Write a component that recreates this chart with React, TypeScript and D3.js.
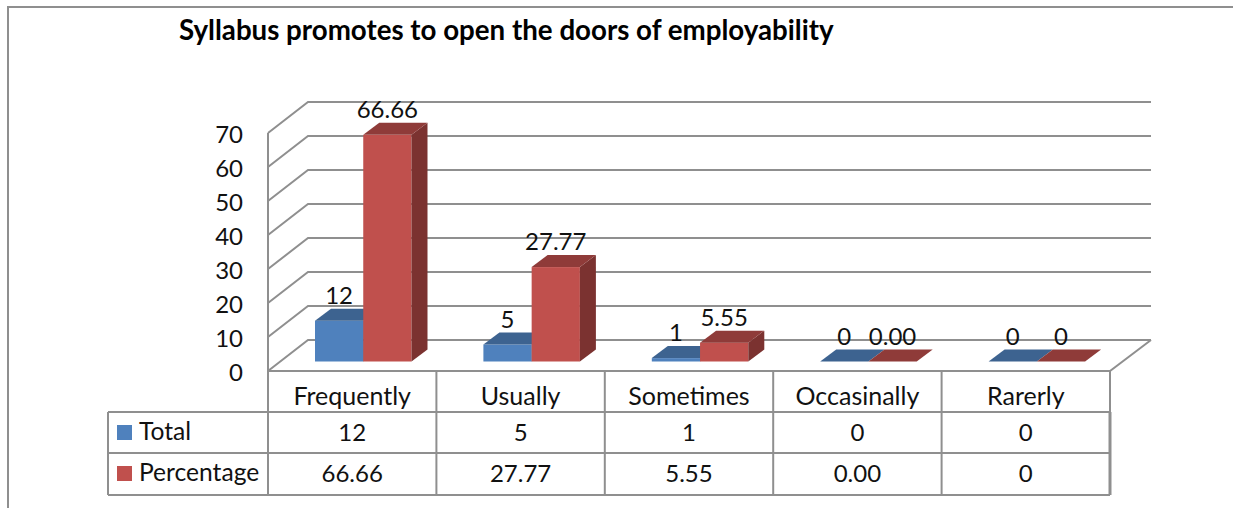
import React from 'react';
import * as d3 from 'd3';

const WIDTH = 1233;
const HEIGHT = 508;

const categories = ['Frequently', 'Usually', 'Sometimes', 'Occasinally', 'Rarerly'];
const seriesNames = ['Total', 'Percentage'];
const total = [12, 5, 1, 0, 0];
const percentage = [66.66, 27.77, 5.55, 0, 0];
const totalLabels = ['12', '5', '1', '0', '0'];
const percentageLabels = ['66.66', '27.77', '5.55', '0.00', '0'];
const yTicks = [0, 10, 20, 30, 40, 50, 60, 70];

const GRID = '#8f8f8f';
const FONT = 'Lato, Carlito, sans-serif';
const colors = [
  { front: '#4f81bd', top: '#3d6390', side: '#3a5f8b' },
  { front: '#c0504d', top: '#8f3b39', side: '#7b3230' },
];

// 3d offset of the back wall and of the bars
const DEPTH = { x: 40, y: 31 };
const BAR_DEPTH = { x: 16, y: 12 };
const FLOOR_GAP = 9.5;

const PLOT = { left: 268, right: 1110, top: 133, bottom: 371 };
const TABLE = { left: 108, row1: 412, row2: 453, bottom: 495 };

const x = d3.scaleBand<string>().domain(categories).range([PLOT.left, PLOT.right]);
const xInner = d3.scaleBand<string>().domain(seriesNames).range([47, 143.5]);
const y = d3.scaleLinear().domain([0, 70]).range([PLOT.bottom, PLOT.top]);

const Bar = ({ left, value, width, color }: { left: number; value: number; width: number; color: (typeof colors)[0] }) => {
  const base = y(0) - FLOOR_GAP;
  const top = y(value) - FLOOR_GAP;
  const right = left + width;
  const dx = BAR_DEPTH.x;
  const dy = BAR_DEPTH.y;
  return (
    <g>
      <rect x={left} y={top} width={width} height={base - top} fill={color.front} />
      <path d={`M${right},${top}L${right + dx},${top - dy}V${base - dy}L${right},${base}Z`} fill={color.side} />
      <path d={`M${left},${top}L${left + dx},${top - dy}H${right + dx}L${right},${top}Z`} fill={color.top} />
    </g>
  );
};

const App = () => {
  const rows = [total, percentage];
  const labels = [totalLabels, percentageLabels];
  const band = x.bandwidth();

  return (
    <svg
      width={WIDTH}
      height={HEIGHT}
      viewBox={`0 0 ${WIDTH} ${HEIGHT}`}
      style={{ position: 'absolute', left: 0, top: 0, display: 'block', background: '#fff' }}
      fontFamily={FONT}
      fontSize={24}
      fill="#111"
    >
      {/* frame: no right or bottom edge in the picture */}
      <path d={`M8,${HEIGHT}V7H${WIDTH}`} fill="none" stroke={GRID} strokeWidth={2} />

      <text x={179} y={40} fontSize={27.7} fontWeight={700} fill="#000">
        Syllabus promotes to open the doors of employability
      </text>

      {/* walls and floor */}
      <g fill="none" stroke={GRID} strokeWidth={2}>
        <line x1={PLOT.left} x2={PLOT.left} y1={PLOT.top} y2={PLOT.bottom} />
        {yTicks.map((t) => (
          <polyline
            key={t}
            points={`${PLOT.left},${y(t)} ${PLOT.left + DEPTH.x},${y(t) - DEPTH.y} ${PLOT.right + DEPTH.x + 1},${y(t) - DEPTH.y}`}
          />
        ))}
        <polyline
          points={`${PLOT.left},${y(0)} ${PLOT.right},${y(0)} ${PLOT.right + DEPTH.x + 1},${y(0) - DEPTH.y}`}
        />
      </g>

      {yTicks.map((t) => (
        <text key={t} x={243} y={y(t) + 10} textAnchor="end">
          {t}
        </text>
      ))}

      {/* bars */}
      {categories.map((c, i) => (
        <g key={c}>
          {seriesNames.map((s, j) => (
            <Bar
              key={s}
              left={(x(c) as number) + (xInner(s) as number)}
              value={rows[j][i]}
              width={xInner.bandwidth()}
              color={colors[j]}
            />
          ))}
        </g>
      ))}

      {/* data labels */}
      {categories.map((c, i) =>
        seriesNames.map((s, j) => (
          <text
            key={s + c}
            x={(x(c) as number) + (xInner(s) as number) + xInner.bandwidth() / 2}
            y={y(rows[j][i]) - FLOOR_GAP - BAR_DEPTH.y - 5}
            textAnchor="middle"
          >
            {labels[j][i]}
          </text>
        ))
      )}

      {/* data table */}
      <g fill="none" stroke={GRID} strokeWidth={2}>
        <line x1={TABLE.left} x2={PLOT.right} y1={TABLE.row1} y2={TABLE.row1} />
        <line x1={TABLE.left} x2={PLOT.right} y1={TABLE.row2} y2={TABLE.row2} />
        <line x1={TABLE.left} x2={PLOT.right} y1={TABLE.bottom} y2={TABLE.bottom} />
        <line x1={TABLE.left} x2={TABLE.left} y1={TABLE.row1} y2={TABLE.bottom} />
        {categories.map((c) => (
          <line key={c} x1={x(c)} x2={x(c)} y1={PLOT.bottom} y2={TABLE.bottom} />
        ))}
        <line x1={PLOT.right} x2={PLOT.right} y1={PLOT.bottom} y2={TABLE.row1} />
        <line x1={PLOT.right} x2={PLOT.right} y1={TABLE.row1} y2={TABLE.bottom} strokeWidth={3} />
      </g>

      {categories.map((c, i) => (
        <g key={c} textAnchor="middle">
          <text x={(x(c) as number) + band / 2} y={405} fontSize={25}>
            {c}
          </text>
          <text x={(x(c) as number) + band / 2} y={441}>
            {totalLabels[i]}
          </text>
          <text x={(x(c) as number) + band / 2} y={482}>
            {percentageLabels[i]}
          </text>
        </g>
      ))}

      {seriesNames.map((s, j) => (
        <g key={s}>
          <rect x={117} y={j === 0 ? 425 : 466} width={15} height={15} fill={colors[j].front} />
          <text x={139} y={j === 0 ? 440 : 481} fontSize={24.6}>
            {s}
          </text>
        </g>
      ))}
    </svg>
  );
};

export default App;
